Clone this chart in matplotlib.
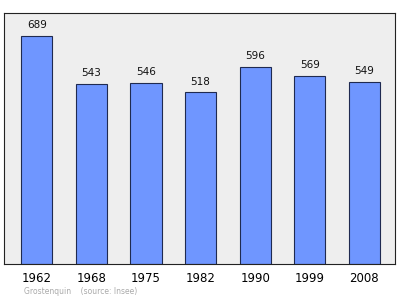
import matplotlib.pyplot as plt

years = ['1962', '1968', '1975', '1982', '1990', '1999', '2008']
population = [689, 543, 546, 518, 596, 569, 549]

fig = plt.figure(figsize=(4, 2.99), dpi=100)
ax = fig.add_axes([4 / 400, 1 - 264 / 299, 391 / 400, 251 / 299])
ax.set_facecolor('#eeeeee')

x = range(len(years))
ax.bar(x, population, width=0.57, color='#6f96ff', edgecolor='#1f2a50', linewidth=0.8)
for i, v in zip(x, population):
    ax.text(i, v + 18, str(v), ha='center', va='bottom', fontsize=7.5, color='#111111')

ax.set_xlim(-0.6, 6.56)
ax.set_ylim(0, 758)
ax.set_yticks([])
ax.set_xticks(list(x))
ax.set_xticklabels(years, fontsize=8.5)
ax.tick_params(axis='x', length=0, pad=6)
for s in ax.spines.values():
    s.set_color('#222222')
    s.set_linewidth(0.8)

fig.text(24 / 400, 1 - 292 / 299, 'Grostenquin    (source: Insee)', fontsize=5.5,
         color='#aaaaaa', va='center')

fig.savefig('out.png', dpi=100)
